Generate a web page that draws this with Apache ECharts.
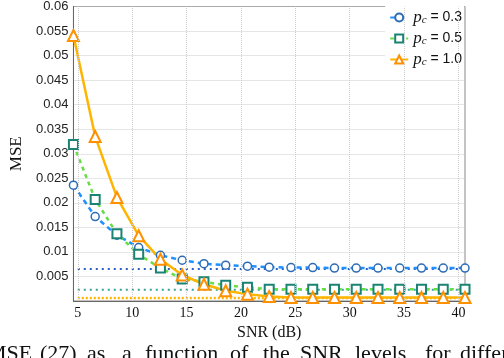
<!DOCTYPE html>
<html>
<head>
<meta charset="utf-8">
<script src="https://cdn.jsdelivr.net/npm/echarts@6/dist/echarts.min.js"></script>
<style>
  html, body { margin: 0; padding: 0; background: #fff; }
  #main { width: 504px; height: 358px; }
</style>
</head>
<body>
<div id="main"></div>
<script>
// SNR levels (dB)
var snr = [4.6, 6.6, 8.6, 10.6, 12.6, 14.6, 16.6, 18.6, 20.6, 22.6, 24.6, 26.6, 28.6, 30.6, 32.6, 34.6, 36.6, 38.6, 40.6];
// MSE curves
var mse03 = [0.0236, 0.0172, 0.0134, 0.0109, 0.0093, 0.0083, 0.0076, 0.0073, 0.0071, 0.0069, 0.0068, 0.0068, 0.0067, 0.0067, 0.0067, 0.0067, 0.0067, 0.0067, 0.0067];
var mse05 = [0.0319, 0.0207, 0.0137, 0.0095, 0.0067, 0.0045, 0.0039, 0.0032, 0.0028, 0.0024, 0.0024, 0.0024, 0.0024, 0.0024, 0.0024, 0.0024, 0.0024, 0.0024, 0.0024];
var mse10 = [0.0541, 0.0335, 0.0211, 0.0133, 0.0085, 0.0053, 0.0034, 0.0021, 0.0014, 0.0009, 0.0007, 0.0007, 0.0007, 0.0007, 0.0007, 0.0007, 0.0007, 0.0007, 0.0007];
// x tick labels
var xTicks = [5, 10, 15, 20, 25, 30, 35, 40];
// dotted floor lines
var boundX = [5, 40.6];
var bound03 = 0.0065;
var bound05 = 0.0023;
var bound10 = 0.0006;
// legend
var pcNames = ['pc03', 'pc05', 'pc10'];
var pcValues = ['0.3', '0.5', '1.0'];
// caption words (cut off in the picture)
var captionWords = ['MSE', '(27)', 'as', 'a', 'function', 'of', 'the', 'SNR', 'levels', 'for', 'different'];
var captionX = [-13, 40, 87, 122, 145, 230, 263, 300, 355, 425, 460];

function pairs(xs, ys) {
  return xs.map(function (x, i) { return [x, ys[i]]; });
}
function flat(v) {
  return boundX.map(function (x) { return [x, v]; });
}

var chart = echarts.init(document.getElementById('main'));

var graphic = captionWords.map(function (w, i) {
  return {
    type: 'text', left: captionX[i], top: 343,
    style: { text: w, font: '22px "Liberation Serif", "Times New Roman", serif', fill: '#111' }
  };
});

var option = {
  animation: false,
  grid: { left: 69, top: 4, right: 39, bottom: 57, show: true, borderColor: '#888', borderWidth: 1 },
  xAxis: {
    type: 'value', min: 4.6, max: 40.6,
    name: 'SNR (dB)', nameLocation: 'middle', nameGap: 15,
    nameTextStyle: { fontFamily: 'Liberation Serif', fontSize: 16, color: '#111' },
    axisLine: { lineStyle: { color: '#666' } },
    axisTick: { show: false, customValues: xTicks },
    axisLabel: { customValues: xTicks, margin: 5, fontFamily: 'Liberation Serif', fontSize: 14, color: '#111' },
    splitLine: { show: false }
  },
  yAxis: {
    type: 'value', min: 0, max: 0.06, interval: 0.005,
    name: 'MSE', nameLocation: 'middle', nameGap: 45,
    nameTextStyle: { fontFamily: 'Liberation Serif', fontSize: 17, color: '#111' },
    axisLine: { show: true, lineStyle: { color: '#666' } },
    axisTick: { show: false },
    axisLabel: { showMinLabel: false, margin: 5, fontFamily: 'Liberation Sans', fontSize: 13, color: '#222' },
    splitLine: { lineStyle: { color: '#ccc', type: 'dotted' } }
  },
  legend: {
    data: pcNames,
    orient: 'vertical', right: 40, top: 6,
    itemWidth: 18, itemHeight: 10, itemGap: 4,
    backgroundColor: '#fff', padding: [3, 2, 3, 4],
    formatter: function (name) {
      return '{p|p}{c|c}{t| = ' + pcValues[pcNames.indexOf(name)] + '}';
    },
    textStyle: {
      rich: {
        p: { fontFamily: 'Liberation Serif', fontStyle: 'italic', fontSize: 17, color: '#111' },
        c: { fontFamily: 'Liberation Serif', fontStyle: 'italic', fontSize: 11, color: '#111', verticalAlign: 'bottom', padding: [6, 0, 0, 0] },
        t: { fontFamily: 'Liberation Sans', fontSize: 14, color: '#111' }
      }
    }
  },
  graphic: graphic,
  series: [
    {
      // vertical grid lines at the x tick values
      name: 'grid', type: 'line', data: [], silent: true, z: 0,
      markLine: {
        silent: true, symbol: 'none', label: { show: false }, animation: false,
        lineStyle: { color: '#ccc', type: 'dotted', width: 1 },
        data: xTicks.map(function (t) { return { xAxis: t }; })
      }
    },
    {
      name: 'b03', type: 'line', data: flat(bound03), symbol: 'none', silent: true,
      lineStyle: { color: '#2a5fc4', width: 2, type: [2, 4] }
    },
    {
      name: 'b05', type: 'line', data: flat(bound05), symbol: 'none', silent: true,
      lineStyle: { color: '#35a39a', width: 2, type: [2, 4] }
    },
    {
      name: 'b10', type: 'line', data: flat(bound10), symbol: 'none', silent: true,
      lineStyle: { color: '#ffb400', width: 2.5, type: [2, 2] }
    },
    {
      name: 'pc03', type: 'line', data: pairs(snr, mse03),
      symbol: 'circle', symbolSize: 8,
      lineStyle: { color: '#1e90ff', width: 2.5, type: [5, 4] },
      itemStyle: { color: '#fff', borderColor: '#2c6cb4', borderWidth: 1.5 }
    },
    {
      name: 'pc05', type: 'line', data: pairs(snr, mse05),
      symbol: 'rect', symbolSize: 9,
      lineStyle: { color: '#66dd44', width: 2.5, type: [4, 4] },
      itemStyle: { color: '#fff', borderColor: '#1a8373', borderWidth: 2 }
    },
    {
      name: 'pc10', type: 'line', data: pairs(snr, mse10),
      symbol: 'triangle', symbolSize: 11,
      lineStyle: { color: '#ffb400', width: 2.5 },
      itemStyle: { color: '#fff', borderColor: '#ff9000', borderWidth: 2 }
    }
  ]
};

chart.setOption(option);
</script>
</body>
</html>
